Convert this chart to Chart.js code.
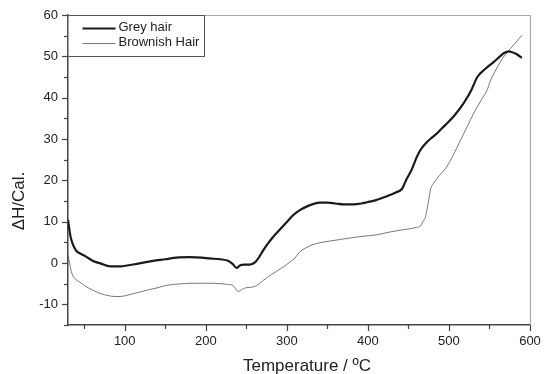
<!DOCTYPE html>
<html>
<head>
<meta charset="utf-8">
<script src="https://cdn.jsdelivr.net/npm/chart.js@4.4.1/dist/chart.umd.min.js"></script>
<style>
  html, body { margin: 0; padding: 0; background: #fff; }
  #wrap { width: 544px; height: 374px; }
</style>
</head>
<body>
<div id="wrap"><canvas id="dsc"></canvas></div>
<script>
// Grey hair (thick curve)
const greyTemp = [30, 33, 36, 40, 45, 50, 55, 61, 70, 82, 95, 103, 115, 135, 150, 164, 180, 195, 205, 218,
  228, 233, 238, 242, 247, 254, 261, 266, 271, 277, 283, 290, 300, 308, 316, 325, 333, 341, 350, 360,
  370, 382, 392, 399, 410, 420, 428, 435, 442, 447, 454, 460, 465, 473, 480, 487, 495, 506, 518, 528,
  535, 545, 555, 563, 568, 574, 578, 582, 586, 590];
const greyHeat = [10.5, 6.5, 4.5, 3, 2.3, 1.8, 1.2, 0.5, -0.1, -0.8, -0.8, -0.6, -0.2, 0.5, 0.9, 1.3, 1.4, 1.3, 1.1, 0.9,
  0.5, -0.2, -1.2, -0.6, -0.4, -0.4, 0.2, 1.5, 3.1, 4.8, 6.3, 7.8, 9.9, 11.6, 12.8, 13.7, 14.3, 14.6, 14.6, 14.4,
  14.2, 14.2, 14.4, 14.7, 15.2, 15.9, 16.5, 17.1, 17.9, 20, 22.6, 25.5, 27.4, 29.3, 30.5, 31.7, 33.3, 35.5, 38.6, 42,
  45, 47, 48.6, 50, 50.8, 51.2, 51, 50.7, 50.2, 49.6];

// Brownish hair (thin curve)
const brownTemp = [30, 32, 34, 37, 42, 48, 53, 60, 70, 80, 88, 95, 103, 115, 127, 140, 152, 165, 185, 200,
  218, 228, 234, 240, 244, 249, 255, 261, 266, 271, 281, 292, 299, 304, 310, 316, 322, 330, 341, 353,
  366, 380, 395, 410, 427, 445, 460, 465, 468, 471, 474, 477, 481, 485, 491, 497, 505, 514, 522, 530,
  540, 547, 551, 560, 566, 572, 580, 590];
const brownHeat = [1.9, 0, -2, -3.4, -4.3, -5.1, -5.8, -6.5, -7.4, -7.9, -8.1, -8.1, -7.8, -7.2, -6.6, -6, -5.4, -5.1, -4.9, -4.9,
  -5, -5.2, -5.5, -6.9, -6.5, -6, -5.9, -5.6, -5, -4.2, -2.8, -1.4, -0.5, 0.3, 1.2, 2.7, 3.5, 4.3, 4.9, 5.3,
  5.7, 6.1, 6.5, 6.8, 7.5, 8.1, 8.6, 9, 10, 11.2, 14, 17.6, 19.3, 20.4, 21.8, 23.2, 26, 29.6, 32.8, 36,
  39.5, 41.8, 44, 47.5, 49.5, 51, 52.8, 55.1];

const xTicks = [50, 100, 150, 200, 250, 300, 350, 400, 450, 500, 550, 600];
const yTicks = [-15, -10, -5, 0, 5, 10, 15, 20, 25, 30, 35, 40, 45, 50, 55, 60];

const xTitle = "Temperature / ºC";
const yTitle = "ΔH/Cal.";
const seriesNames = ["Grey hair", "Brownish Hair"];

const toPoints = (xs, ys) => xs.map((x, i) => ({ x: x, y: ys[i] }));

// ticks with major/minor lengths, frame, legend box and axis titles
const decorations = {
  id: "decorations",
  afterDatasetsDraw(chart) {
    const { ctx, chartArea, scales } = chart;
    const xs = scales.x, ys = scales.y;
    ctx.save();
    ctx.strokeStyle = "#444";
    ctx.lineWidth = 1.2;
    xTicks.forEach(v => {
      const px = Math.round(xs.getPixelForValue(v)) + 0.5;
      const len = v % 100 === 0 ? 6 : 4;
      ctx.beginPath();
      ctx.moveTo(px, chartArea.bottom);
      ctx.lineTo(px, chartArea.bottom + len);
      ctx.stroke();
    });
    yTicks.forEach(v => {
      const py = Math.round(ys.getPixelForValue(v)) + 0.5;
      const len = v % 10 === 0 ? 6 : 4;
      ctx.beginPath();
      ctx.moveTo(chartArea.left, py);
      ctx.lineTo(chartArea.left - len, py);
      ctx.stroke();
    });

    // top and right frame
    ctx.strokeStyle = "#aaa";
    ctx.lineWidth = 1.2;
    ctx.beginPath();
    ctx.moveTo(chartArea.left, chartArea.top + 0.5);
    ctx.lineTo(chartArea.right + 0.5, chartArea.top + 0.5);
    ctx.lineTo(chartArea.right + 0.5, chartArea.bottom);
    ctx.stroke();

    // legend
    const lx = chartArea.left - 0.5, ly = chartArea.top + 0.5;
    ctx.strokeStyle = "#555";
    ctx.lineWidth = 1;
    ctx.strokeRect(lx, ly, 137, 41);
    ctx.strokeStyle = "#1a1a1a";
    ctx.lineWidth = 2.2;
    ctx.beginPath();
    ctx.moveTo(lx + 15, ly + 13);
    ctx.lineTo(lx + 48, ly + 13);
    ctx.stroke();
    ctx.strokeStyle = "#555";
    ctx.lineWidth = 0.8;
    ctx.beginPath();
    ctx.moveTo(lx + 15, ly + 28);
    ctx.lineTo(lx + 48, ly + 28);
    ctx.stroke();
    ctx.fillStyle = "#222";
    ctx.font = "13px 'Liberation Sans', Arial, sans-serif";
    ctx.textBaseline = "middle";
    ctx.textAlign = "left";
    ctx.fillText(seriesNames[0], lx + 51, ly + 12);
    ctx.fillText(seriesNames[1], lx + 51, ly + 27);

    // axis titles
    ctx.font = "17px 'Liberation Sans', Arial, sans-serif";
    ctx.textAlign = "center";
    ctx.fillText(xTitle, 307, 366);
    ctx.translate(19, 201);
    ctx.rotate(-Math.PI / 2);
    ctx.fillText(yTitle, 0, 0);
    ctx.restore();
  }
};

new Chart(document.getElementById("dsc"), {
  type: "scatter",
  data: {
    datasets: [
      {
        label: seriesNames[0],
        data: toPoints(greyTemp, greyHeat),
        showLine: true,
        borderColor: "#1a1a1a",
        borderWidth: 2.2,
        pointRadius: 0,
        cubicInterpolationMode: "monotone"
      },
      {
        label: seriesNames[1],
        data: toPoints(brownTemp, brownHeat),
        showLine: true,
        borderColor: "#555",
        borderWidth: 0.8,
        pointRadius: 0,
        cubicInterpolationMode: "monotone"
      }
    ]
  },
  options: {
    responsive: true,
    maintainAspectRatio: false,
    animation: false,
    layout: { padding: { left: 0, top: 15, right: 14, bottom: 0 } },
    plugins: {
      legend: { display: false },
      tooltip: { enabled: false }
    },
    scales: {
      x: {
        type: "linear",
        min: 30,
        max: 600,
        afterBuildTicks: s => { s.ticks = xTicks.map(v => ({ value: v })); },
        afterFit: s => { s.height = 49; s.paddingLeft = 0; s.paddingRight = 0; },
        grid: { display: true, drawOnChartArea: false, drawTicks: false },
        border: { color: "#444", width: 1.5 },
        ticks: {
          padding: 9,
          color: "#222",
          font: { family: "'Liberation Sans', Arial, sans-serif", size: 13 },
          maxRotation: 0,
          autoSkip: false,
          callback: v => (v % 100 === 0 ? v : "")
        }
      },
      y: {
        type: "linear",
        min: -15,
        max: 60,
        afterBuildTicks: s => { s.ticks = yTicks.map(v => ({ value: v })); },
        afterFit: s => { s.width = 68; s.paddingTop = 0; s.paddingBottom = 0; },
        grid: { display: true, drawOnChartArea: false, drawTicks: false },
        border: { color: "#444", width: 1.5 },
        ticks: {
          padding: 10,
          color: "#222",
          font: { family: "'Liberation Sans', Arial, sans-serif", size: 13 },
          autoSkip: false,
          callback: v => (v % 10 === 0 ? v : "")
        }
      }
    }
  },
  plugins: [decorations]
});
</script>
</body>
</html>
